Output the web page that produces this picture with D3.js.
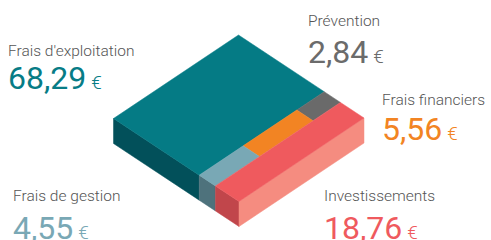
<!DOCTYPE html>
<html>
<head>
<meta charset="utf-8">
<script src="https://cdn.jsdelivr.net/npm/d3@7"></script>
<style>
  body { margin: 0; background: #fff; }
  svg { display: block; font-family: Roboto, "Noto Sans", sans-serif; }
</style>
</head>
<body>
<script>
// Width and height of the picture
var width = 491;
var height = 240;

// data: cost share per 100 €
var categories = ["Frais d'exploitation", "Prévention", "Frais financiers", "Frais de gestion", "Investissements"];
var values = [68.29, 2.84, 5.56, 4.55, 18.76];
var valueLabels = ["68,29", "2,84", "5,56", "4,55", "18,76"];
// which categories share a strip of the block (left to right)
var columns = [[0], [1, 2, 3], [4]];

// colours
var topColor = ["#057b85", "#6a6a6a", "#f28423", "#79a8b5", "#ef5a5e"];
var leftSide = ["#02505a", "#4a4a4a", "#b8621a", "#4e727c", "#c1464b"];
var rightSide = "#f58c80";
var textColor = ["#077c86", "#6b6b6b", "#f28423", "#79a8b5", "#ef5a5e"];

// isometric frame of the block: top corner, two edge vectors and thickness
var T = [238.5, 35];
var U = [125.5, 83];   // towards the right corner
var V = [-125, 83.5];  // towards the left corner
var depth = 25;

function iso(a, b, z) {
  return [T[0] + a * U[0] + b * V[0], T[1] + a * U[1] + b * V[1] + (z || 0)];
}

var total = d3.sum(values);
var aScale = d3.scaleLinear().domain([0, total]).range([0, 1]);

// build cells: each column spans a range of a, cells inside split along b
var cells = [];
var aPos = 0;
columns.forEach(function(col, ci) {
  var colSum = d3.sum(col, function(i) { return values[i]; });
  var a0 = aScale(aPos), a1 = aScale(aPos + colSum);
  var bScale = d3.scaleLinear().domain([0, colSum]).range([0, 1]);
  var bPos = 0;
  col.forEach(function(i, k) {
    cells.push({ i: i, a0: a0, a1: a1, b0: bScale(bPos), b1: bScale(bPos + values[i]),
                 front: k === col.length - 1, last: ci === columns.length - 1 });
    bPos += values[i];
  });
  aPos += colSum;
});

var line = d3.line();

var svg = d3.select("body")
  .append("svg")
  .attr("width", width)
  .attr("height", height);

var block = svg.append("g");

// front-left side faces (below the b = 1 edge)
block.selectAll("path.left")
  .data(cells.filter(function(d) { return d.front; }))
  .enter()
  .append("path")
  .attr("class", "left")
  .attr("d", function(d) {
    return line([iso(d.a0, 1), iso(d.a1, 1), iso(d.a1, 1, depth), iso(d.a0, 1, depth)]) + "Z";
  })
  .style("fill", function(d) { return leftSide[d.i]; })
  .style("stroke", function(d) { return leftSide[d.i]; })
  .style("stroke-width", 0.5);

// front-right side face (below the a = 1 edge)
block.selectAll("path.right")
  .data(cells.filter(function(d) { return d.last; }))
  .enter()
  .append("path")
  .attr("class", "right")
  .attr("d", function(d) {
    return line([iso(1, d.b0), iso(1, d.b1), iso(1, d.b1, depth), iso(1, d.b0, depth)]) + "Z";
  })
  .style("fill", rightSide)
  .style("stroke", rightSide)
  .style("stroke-width", 0.5);

// top faces
block.selectAll("path.top")
  .data(cells)
  .enter()
  .append("path")
  .attr("class", "top")
  .attr("d", function(d) {
    return line([iso(d.a0, d.b0), iso(d.a1, d.b0), iso(d.a1, d.b1), iso(d.a0, d.b1)]) + "Z";
  })
  .style("fill", function(d) { return topColor[d.i]; })
  .style("stroke", function(d) { return topColor[d.i]; })
  .style("stroke-width", 0.5);

// labels: name line and value line
var labelPos = [
  { x: 8, y: 56, vy: 89 },
  { x: 308, y: 26, vy: 63 },
  { x: 382, y: 105, vy: 140 },
  { x: 13, y: 201, vy: 239 },
  { x: 324, y: 201, vy: 239 }
];

var labels = svg.selectAll("g.label")
  .data(categories)
  .enter()
  .append("g")
  .attr("class", "label")
  .attr("transform", function(d, i) { return "translate(" + labelPos[i].x + ",0)"; });

labels.append("text")
  .attr("y", function(d, i) { return labelPos[i].y; })
  .style("font-size", "15.5px")
  .style("font-weight", 300)
  .style("fill", "#555")
  .text(function(d) { return d; });

var num = labels.append("text")
  .attr("y", function(d, i) { return labelPos[i].vy; })
  .style("fill", function(d, i) { return textColor[i]; });

num.append("tspan")
  .style("font-size", "32px")
  .text(function(d, i) { return valueLabels[i]; });

num.append("tspan")
  .attr("dx", 5)
  .style("font-size", "19px")
  .style("font-weight", 300)
  .text("€");
</script>
</body>
</html>
